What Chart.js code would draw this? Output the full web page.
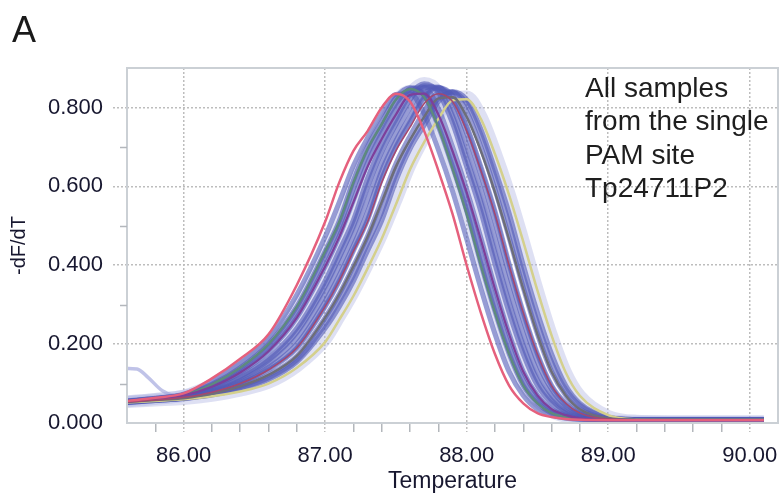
<!DOCTYPE html>
<html>
<head>
<meta charset="utf-8">
<script src="https://cdn.jsdelivr.net/npm/chart.js@4/dist/chart.umd.min.js"></script>
<style>
  html, body { margin: 0; padding: 0; background: #fff; overflow: hidden; }
  #wrap { position: relative; width: 779px; height: 497px; }
  #panel { position: absolute; left: 12px; top: 12px; font: 36px/36px "Liberation Sans", Arial, sans-serif; color: #1a1a1a; }
  #note { position: absolute; left: 585px; top: 71px; font: 28px/33.3px "Liberation Sans", Arial, sans-serif; color: #1e1e1e; }
</style>
</head>
<body>
<div id="wrap">
  <canvas id="meltChart"></canvas>
  <div id="panel">A</div>
  <div id="note">All samples<br>from the single<br>PAM site<br>Tp24711P2</div>
</div>
<script>
// Temperatures (x) shared by the melt curves
const temps = [85.6, 85.8, 86.0, 86.2, 86.4, 86.6, 86.8, 87.0, 87.1, 87.2, 87.3, 87.4, 87.5, 87.6, 87.7,
  87.8, 87.9, 88.0, 88.1, 88.2, 88.3, 88.4, 88.5, 88.6, 88.7, 88.8, 89.0, 89.2, 89.6, 90.1];
// the one sample with a raised start has its own, denser start
const startTemps = [85.6, 85.67, 85.75, 85.85, 86.0, 86.2, 86.4, 86.6, 86.8, 87.0, 87.1, 87.2, 87.3, 87.4, 87.5,
  87.6, 87.7, 87.8, 87.9, 88.0, 88.1, 88.2, 88.3, 88.4, 88.5, 88.6, 88.7, 88.8, 89.0, 89.2, 89.6, 90.1];

// -dF/dT, one array per sample
const redCurve     = [.056,.064,.075,.113,.163,.225,.35, .51,.61,.69,.74,.80,.835,.815,.74,.64,.53,.40,.28,.175,.095,.05,.025,.015,.01,.008, .007,.007,.007,.007];
const greenCurve   = [.055,.062,.071,.098,.14,.2,.295, .435,.51,.61,.695,.758,.82,.847,.826,.75,.645,.53,.40,.28,.175,.095,.05,.025,.015,.01, .008,.008,.008,.008];
const purpleCurve  = [.055,.061,.07,.092,.128,.182,.267, .397,.472,.56,.65,.72,.782,.832,.835,.782,.69,.585,.465,.34,.225,.13,.07,.035,.02,.012, .0085,.008,.008,.008];
const crimsonCurve = [.053,.058,.065,.078,.1,.135,.19, .295,.36,.435,.51,.61,.69,.75,.81,.835,.815,.74,.64,.53,.40,.28,.175,.095,.05,.025, .01,.008,.008,.008];
const grayCurve    = [.053,.058,.063,.074,.093,.122,.17, .267,.327,.397,.472,.56,.65,.718,.776,.823,.826,.776,.69,.585,.465,.34,.225,.13,.07,.035, .012,.0085,.008,.008];
const oliveCurve   = [.052,.056,.06,.068,.08,.1,.14, .205,.262,.322,.392,.467,.554,.643,.712,.771,.818,.821,.771,.682,.578,.46,.336,.222,.128,.069, .02,.0095,.008,.008];

const blue1  = [.056,.063,.073,.105,.152,.215,.325, .472,.56,.652,.723,.784,.833,.835,.784,.693,.588,.467,.342,.226,.13,.07,.035,.02,.012,.0095, .008,.008,.008,.008];
const blue2  = [.055,.062,.071,.098,.14,.2,.295, .435,.512,.615,.70,.763,.825,.85,.83,.752,.65,.538,.405,.283,.176,.095,.05,.025,.015,.01, .008,.008,.008,.008];
const blue3  = [.055,.061,.07,.092,.128,.182,.267, .397,.474,.565,.66,.735,.797,.847,.85,.797,.70,.592,.47,.343,.226,.13,.07,.035,.02,.012, .0085,.008,.008,.008];
const blue4  = [.054,.06,.068,.087,.118,.165,.24, .36,.437,.515,.62,.705,.77,.833,.86,.838,.76,.65,.537,.403,.28,.175,.095,.05,.025,.015, .009,.008,.008,.008];
const blue5  = [.054,.059,.066,.082,.108,.15,.215, .327,.397,.474,.566,.66,.735,.80,.85,.852,.80,.703,.593,.469,.342,.226,.13,.07,.035,.02, .0095,.008,.008,.008];
const blue6  = [.053,.058,.065,.078,.1,.135,.19, .295,.36,.437,.515,.62,.70,.763,.825,.85,.83,.753,.65,.537,.403,.28,.175,.095,.05,.025, .01,.008,.008,.008];
const blue7  = [.053,.058,.063,.074,.093,.122,.17, .267,.327,.398,.474,.565,.657,.728,.79,.838,.84,.79,.70,.592,.47,.343,.226,.13,.07,.035, .012,.0085,.008,.008];
const blue8  = [.052,.057,.062,.071,.086,.11,.155, .24,.295,.36,.437,.513,.614,.695,.755,.815,.84,.82,.745,.643,.532,.40,.28,.175,.095,.05, .015,.009,.008,.008];
const blue9  = [.055,.062,.071,.095,.135,.193,.283, .42,.497,.595,.683,.75,.81,.843,.837,.77,.67,.56,.43,.305,.195,.108,.058,.029,.017,.011, .008,.008,.008,.008];
const blue10 = [.054,.06,.067,.085,.114,.159,.23, .347,.42,.5,.6,.688,.758,.82,.855,.845,.778,.67,.56,.43,.305,.195,.108,.058,.029,.017, .009,.008,.008,.008];
const blue11 = [.053,.058,.065,.08,.103,.141,.2, .308,.375,.45,.535,.64,.715,.777,.835,.85,.818,.735,.63,.51,.378,.26,.155,.085,.043,.023, .01,.008,.008,.008];
const blue12 = [.052,.057,.062,.072,.089,.115,.16, .25,.31,.375,.455,.535,.63,.708,.768,.823,.838,.81,.73,.625,.505,.375,.255,.155,.085,.045, .014,.009,.008,.008];

const haloPeak  = [.055,.061,.069,.088,.12,.167,.242, .362,.44,.518,.622,.708,.773,.836,.862,.84,.762,.652,.54,.405,.282,.176,.096,.051,.026,.014, .006,.004,.004,.004];
const haloRight = [.053,.057,.061,.069,.082,.102,.143, .21,.268,.33,.40,.476,.562,.652,.722,.78,.825,.828,.78,.69,.585,.465,.34,.225,.13,.07, .018,.006,.004,.004];
const haloLeft  = [.056,.063,.072,.1,.143,.203,.298, .437,.512,.612,.694,.758,.82,.845,.825,.748,.647,.535,.403,.282,.176,.095,.05,.025,.013,.008, .005,.004,.004,.004];
const haloStart = [.138,.137,.115,.082,.066,.079,.1,.136,.19, .295,.36,.437,.515,.62,.70,.763,.825,.85,.83,.753,.65,.537,.403,.28,.175,.095,.05,.025, .01,.008,.008,.008];

const minorYTicks = [0.1, 0.3, 0.5, 0.7];

const BLUE = 'rgba(82, 90, 184, 0.6)';
const HALO = 'rgba(172, 178, 226, 0.4)';
const TEXT = '#17172f';
const GRID = '#bdbdbd';

Chart.defaults.font.family = '"Liberation Sans", Arial, sans-serif';

function curve(values, color, width, xs = temps) {
  return {
    data: values.map((v, i) => ({ x: xs[i], y: v })),
    borderColor: color,
    borderWidth: width,
    pointRadius: 0,
    cubicInterpolationMode: 'monotone',
    borderJoinStyle: 'round',
    clip: 0
  };
}

const isWhole = v => Math.abs(v - Math.round(v)) < 1e-6;
const isMajorY = v => Math.round(v * 10) % 2 === 0 && v > 0.01 && v < 0.85;

// plot frame and the short minor ticks on the y axis
const framePlugin = {
  id: 'frame',
  afterDatasetsDraw(chart) {
    const { ctx, chartArea: a, scales: { y } } = chart;
    ctx.save();
    ctx.strokeStyle = '#cbd0d5';
    ctx.lineWidth = 2;
    ctx.strokeRect(a.left, a.top, a.right - a.left, a.bottom - a.top);
    ctx.strokeStyle = '#b3b7bc';
    ctx.lineWidth = 1.5;
    minorYTicks.forEach(v => {
      const py = Math.round(y.getPixelForValue(v)) + 0.5;
      ctx.beginPath();
      ctx.moveTo(a.left - 7, py);
      ctx.lineTo(a.left, py);
      ctx.stroke();
    });
    ctx.restore();
  }
};

const blues = [blue1, blue9, blue2, blue3, blue4, blue10, blue5, blue11, blue6, blue7, blue12, blue8];

new Chart(document.getElementById('meltChart'), {
  type: 'line',
  data: {
    datasets: [
      curve(redCurve, '#e5607d', 2.5),
      curve(crimsonCurve, '#a5486e', 1.5),
      curve(purpleCurve, '#7d3f9b', 2.2),
      curve(greenCurve, '#5d8a7e', 2.5),
      curve(grayCurve, '#6d6e78', 2.5),
      curve(oliveCurve, '#d4d08c', 2.5),
      ...blues.map(b => curve(b, BLUE, 5)),
      curve(haloStart, 'rgba(165, 170, 222, 0.7)', 3.5, startTemps),
      curve(haloPeak, HALO, 12),
      curve(haloLeft, HALO, 10),
      curve(haloRight, HALO, 12)
    ]
  },
  options: {
    responsive: true,
    maintainAspectRatio: false,
    animation: false,
    layout: { padding: { top: 68, right: 1, left: 0, bottom: 0 } },
    plugins: { legend: { display: false }, tooltip: { enabled: false } },
    scales: {
      x: {
        type: 'linear',
        min: 85.6,
        max: 90.2,
        afterFit(s) { s.height = 74; s.paddingLeft = 0; s.paddingRight = 0; },
        border: { display: false, dash: [2, 2] },
        grid: {
          color: c => isWhole(c.tick.value) ? GRID : 'rgba(0,0,0,0)',
          lineWidth: 1.5,
          tickLength: 9,
          tickWidth: 1.5,
          tickColor: c => (c.index === 0 || c.tick.value > 90.1) ? 'rgba(0,0,0,0)' : (isWhole(c.tick.value) ? GRID : '#b3b7bc'),
          tickBorderDash: c => isWhole(c.tick.value) ? [2, 2] : []
        },
        ticks: {
          stepSize: 0.2,
          autoSkip: false,
          maxRotation: 0,
          padding: 11,
          color: TEXT,
          font: { size: 22 },
          callback: v => isWhole(v) ? v.toFixed(2) : ''
        },
        title: { display: true, text: 'Temperature', color: TEXT, font: { size: 23 }, padding: { top: 0, bottom: 2 } }
      },
      y: {
        min: 0,
        max: 0.9,
        afterFit(s) { s.width = 127; },
        border: { display: false, dash: [2, 2] },
        grid: {
          color: c => isMajorY(c.tick.value) ? GRID : 'rgba(0,0,0,0)',
          lineWidth: 1.5,
          tickLength: 14,
          tickWidth: 1.5,
          tickColor: c => isMajorY(c.tick.value) ? GRID : 'rgba(0,0,0,0)',
          tickBorderDash: [2, 2]
        },
        ticks: {
          stepSize: 0.1,
          padding: 10,
          color: TEXT,
          font: { size: 22 },
          callback: v => (Math.round(v * 10) % 2 === 0 && v < 0.85) ? v.toFixed(3) : ''
        },
        title: { display: true, text: '-dF/dT', color: TEXT, font: { size: 20 }, padding: { top: 7, bottom: 0 } }
      }
    }
  },
  plugins: [framePlugin]
});
</script>
</body>
</html>
